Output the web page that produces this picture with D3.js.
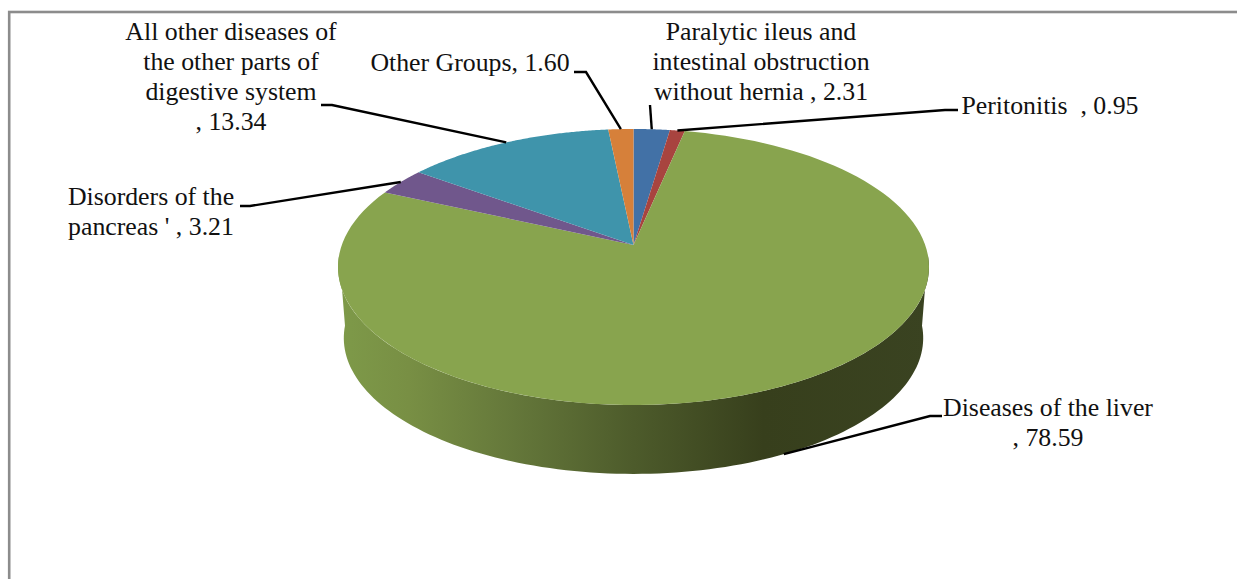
<!DOCTYPE html>
<html>
<head>
<meta charset="utf-8">
<script src="https://cdn.jsdelivr.net/npm/d3@7"></script>
<style>
    html, body { margin: 0; padding: 0; background: #fff; overflow: hidden; }
    text { font-family: "Liberation Serif", serif; font-size: 25.8px; fill: #111; white-space: pre; }
</style>
</head>
<body>
<div id="chart"></div>
<script>
// Clockwise from 12 o'clock, same order as the original chart
const categories = [
    'Paralytic ileus and intestinal obstruction without hernia',
    'Peritonitis',
    'Diseases of the liver',
    "Disorders of the pancreas '",
    'All other diseases of the other parts of digestive system',
    'Other Groups'
];
const values = [2.31, 0.95, 78.59, 3.21, 13.34, 1.60];
const colors = ['#4271a6', '#a8443f', '#88a44e', '#70578c', '#3f94ab', '#d6803a'];

const labelLines = [
    ['Paralytic ileus and', 'intestinal obstruction', 'without hernia , 2.31'],
    ['Peritonitis  , 0.95'],
    ['Diseases of the liver', ', 78.59'],
    ['Disorders of the', "pancreas ' , 3.21"],
    ['All other diseases of', 'the other parts of', 'digestive system', ', 13.34'],
    ['Other Groups, 1.60']
];

const width = 1237;
const height = 579;
const lineHeight = 30;

// label centre x, first baseline y, elbow of the leader line
const labelLayout = [
    {x: 761, y: 40, elbow: null, start: [650, 105]},
    {x: 1050, y: 114, elbow: [945, 110], start: [958, 110]},
    {x: 1048, y: 416, elbow: [930, 416], start: [942, 416]},
    {x: 151, y: 205, elbow: [250, 206], start: [240, 206]},
    {x: 231, y: 40, elbow: [332, 105], start: [321, 105]},
    {x: 470, y: 71, elbow: [586, 72], start: [574, 72]}
];

// perspective of the 3D pie: top face and bottom face of the disc
const topFace = {cx: 633.5, cy: 245, sx: 291.7, k: 134.5, p: 0.1594};
const bottomFace = {cx: 633.5, cy: 316.3, sx: 286, k: 132.5, p: 0.1594};

function project(face, a) {
    const d = 1 + face.p * Math.cos(a);
    return [face.cx + face.sx * Math.sin(a) / d, face.cy - face.k * Math.cos(a) / d];
}

function sweep(face, a0, a1) {
    return d3.range(0, 121).map(i => project(face, a0 + (a1 - a0) * i / 120));
}

const pie = d3.pie().sort(null).value(d => d);
const arcs = pie(values);

const svg = d3.select('#chart')
    .append('svg')
    .attr('width', width)
    .attr('height', height)
    .style('display', 'block');

// chart frame, runs off the right and bottom of the crop
svg.append('rect')
    .attr('x', 9.2)
    .attr('y', 12)
    .attr('width', width + 20)
    .attr('height', height + 20)
    .attr('fill', 'none')
    .attr('stroke', '#8c8c8c')
    .attr('stroke-width', 2.6);

const wallGradient = svg.append('defs').append('linearGradient')
    .attr('id', 'wall')
    .attr('gradientUnits', 'userSpaceOnUse')
    .attr('x1', 338).attr('x2', 929).attr('y1', 0).attr('y2', 0);

[[0, '#7e9a49'], [0.12, '#788f44'], [0.3, '#64773a'], [0.5, '#4d5b2b'], [0.72, '#373f1c'], [1, '#3a4321']]
    .forEach(s => wallGradient.append('stop').attr('offset', s[0]).attr('stop-color', s[1]));

const line = d3.line();

// side wall of the liver slice, only the front of the disc shows
const wallFrom = 94 * Math.PI / 180;
const wallTo = 266 * Math.PI / 180;
svg.append('path')
    .attr('d', line(sweep(topFace, wallFrom, wallTo).concat(sweep(bottomFace, wallTo, wallFrom))) + 'Z')
    .attr('fill', 'url(#wall)');

// top face slices
svg.selectAll('.slice')
    .data(arcs)
    .enter()
    .append('path')
    .attr('class', 'slice')
    .attr('d', d => line([[topFace.cx, topFace.cy]].concat(sweep(topFace, d.startAngle, d.endAngle))) + 'Z')
    .attr('fill', (d, i) => colors[i]);

// leader lines end on the rim at the middle of each slice
svg.selectAll('.leader')
    .data(arcs)
    .enter()
    .append('path')
    .attr('class', 'leader')
    .attr('fill', 'none')
    .attr('stroke', '#000')
    .attr('stroke-width', 2.4)
    .attr('d', (d, i) => {
        const mid = (d.startAngle + d.endAngle) / 2;
        const end = project(categories[i] === 'Diseases of the liver' ? bottomFace : topFace, mid);
        const l = labelLayout[i];
        return line([l.start].concat(l.elbow ? [l.elbow] : [], [end]));
    });

// labels
const labels = svg.selectAll('.label')
    .data(labelLines)
    .enter()
    .append('text')
    .attr('class', 'label')
    .attr('text-anchor', 'middle')
    .attr('aria-label', (d, i) => categories[i]);

labels.selectAll('tspan')
    .data((d, i) => d.map((t, j) => ({t: t, x: labelLayout[i].x, y: labelLayout[i].y + j * lineHeight})))
    .enter()
    .append('tspan')
    .attr('x', d => d.x)
    .attr('y', d => d.y)
    .text(d => d.t);
</script>
</body>
</html>
